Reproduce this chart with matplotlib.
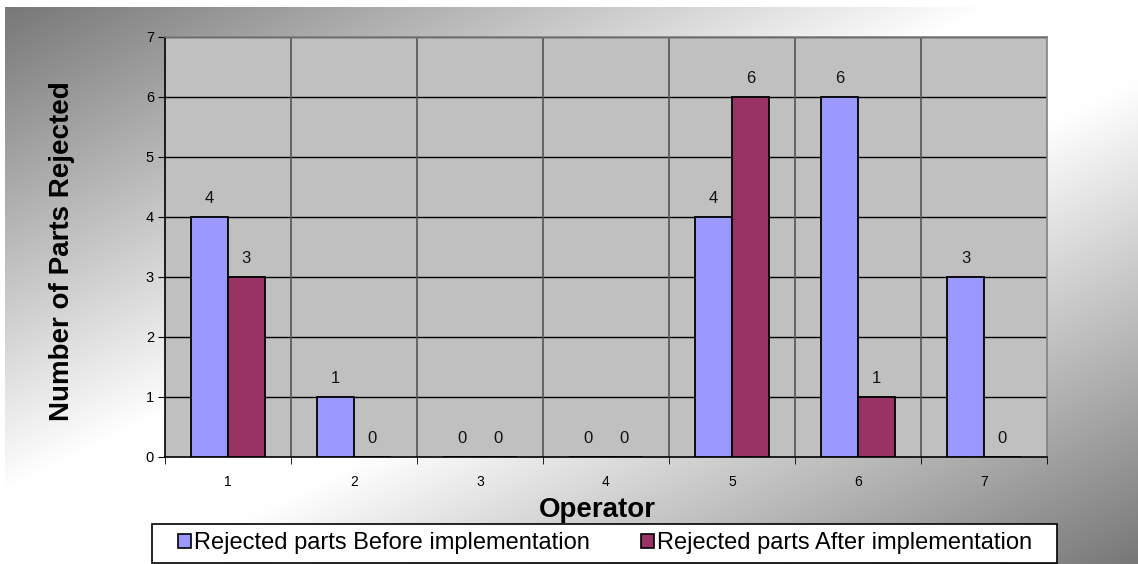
import numpy as np
import matplotlib
matplotlib.use("Agg")
import matplotlib.pyplot as plt
from matplotlib.patches import Patch, Rectangle

operators = ["1", "2", "3", "4", "5", "6", "7"]
before = [4, 1, 0, 0, 4, 6, 3]
after = [3, 0, 0, 0, 6, 1, 0]
series_names = ["Rejected parts Before implementation", "Rejected parts After implementation"]
colors = ["#9999FF", "#993366"]

plt.rcParams['font.family'] = ['Liberation Sans', 'DejaVu Sans']

W, H = 1138, 564
fig = plt.figure(figsize=(W / 100, H / 100), dpi=100)

# background gradient
bg = fig.add_axes([5 / W, 0, 1 - 5 / W, 1 - 7 / H])
bg.set_axis_off()
nx, ny = 400, 200
xx, yy = np.meshgrid(np.linspace(0, 1, nx), np.linspace(0, 1, ny))
t = (xx + yy) / 2.0  # 0 top-left, 1 bottom-right
v = 1 - np.abs(t - 0.5) * 2
g = 0.47 + (1 - 0.47) * np.clip(v * 1.15, 0, 1)
img = np.dstack([g, g, g])
bg.imshow(img, aspect='auto', extent=[0, 1, 1, 0], interpolation='bilinear')
bg.set_xlim(0, 1)
bg.set_ylim(1, 0)

L, R, T, B = 165, 1047, 37, 457
ax = fig.add_axes([L / W, 1 - B / H, (R - L) / W, (B - T) / H])
ax.set_facecolor("#C0C0C0")

x = np.arange(len(operators))
bw = 0.29
b1 = ax.bar(x - bw / 2, before, bw, color=colors[0], edgecolor='black', linewidth=1.3, zorder=3)
b2 = ax.bar(x + bw / 2, after, bw, color=colors[1], edgecolor='black', linewidth=1.3, zorder=3)

for bars, vals in ((b1, before), (b2, after)):
    for rect, val in zip(bars, vals):
        ax.annotate(str(val), (rect.get_x() + rect.get_width() / 2, val),
                    xytext=(0, 13.5), textcoords='offset points',
                    ha='center', va='center', fontsize=12, color='#111111', zorder=4)

ax.set_xlim(-0.5, len(operators) - 0.5)
ax.set_ylim(0, 7)
ax.set_yticks(range(0, 8))
ax.set_xticks(x)
ax.set_xticklabels(operators)
ax.set_xticks(np.arange(-0.5, len(operators)), minor=True)
ax.tick_params(axis='x', which='major', length=0, labelsize=10, pad=13)
ax.tick_params(axis='x', which='minor', length=5, direction='out', color='black')
ax.tick_params(axis='y', length=5, direction='out', labelsize=10.5, pad=3)

for yv in range(1, 8):
    ax.axhline(yv, color='black', linewidth=1, zorder=1)
for xb in np.arange(0.5, len(operators) - 0.5):
    ax.axvline(xb, color='#555555', linewidth=1.2, zorder=1)

ax.spines['left'].set_color('black')
ax.spines['bottom'].set_color('black')
ax.spines['top'].set_color('#808080')
ax.spines['right'].set_color('#808080')
for s in ax.spines.values():
    s.set_linewidth(1.2)

ax.set_ylabel("Number of Parts Rejected", fontsize=20, fontweight='bold')
ax.yaxis.set_label_coords(-0.102, 0.49)
ax.set_xlabel("Operator", fontsize=20, fontweight='bold')
ax.xaxis.set_label_coords(0.49, -0.095)

# legend frame
fig.add_artist(Rectangle((152 / W, 1 - 563 / H), (1057 - 152) / W, (563 - 524) / H,
                         transform=fig.transFigure, facecolor='white', edgecolor='black',
                         linewidth=1.2, zorder=5))
handles = [Patch(facecolor=c, edgecolor='black', linewidth=1.2) for c in colors]
leg = fig.legend(handles, series_names, loc='center',
                 bbox_to_anchor=(605 / W, 1 - 543.5 / H),
                 ncol=2, fontsize=17, frameon=False, borderaxespad=0,
                 handlelength=0.55, handleheight=0.55, handletextpad=0.12,
                 columnspacing=2.2, borderpad=0)
leg.set_zorder(6)

fig.savefig("out.png", dpi=100)
